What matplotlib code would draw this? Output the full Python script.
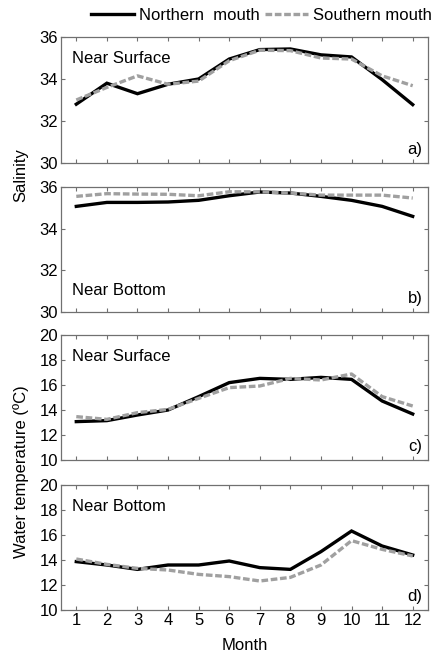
import matplotlib
matplotlib.use("Agg")
import matplotlib.pyplot as plt

plt.rcParams["font.family"] = ["Liberation Sans", "DejaVu Sans"]
plt.rcParams["font.size"] = 12

months = list(range(1, 13))

sal_surf_north = [32.8, 33.8, 33.3, 33.75, 34.0, 34.95, 35.4, 35.43, 35.15, 35.05, 33.97, 32.78]
sal_surf_south = [33.0, 33.6, 34.15, 33.75, 33.9, 34.87, 35.37, 35.35, 35.0, 34.95, 34.15, 33.68]
sal_bot_north = [35.07, 35.26, 35.26, 35.28, 35.36, 35.58, 35.76, 35.71, 35.55, 35.36, 35.07, 34.59]
sal_bot_south = [35.55, 35.68, 35.66, 35.65, 35.58, 35.77, 35.77, 35.71, 35.61, 35.61, 35.61, 35.47]
tmp_surf_north = [13.07, 13.15, 13.6, 14.0, 15.07, 16.19, 16.53, 16.45, 16.61, 16.45, 14.72, 13.68]
tmp_surf_south = [13.47, 13.25, 13.79, 14.05, 14.93, 15.79, 15.92, 16.53, 16.4, 16.88, 15.07, 14.32]
tmp_bot_north = [13.87, 13.6, 13.25, 13.6, 13.6, 13.92, 13.39, 13.25, 14.67, 16.32, 15.12, 14.4]
tmp_bot_south = [14.08, 13.65, 13.33, 13.2, 12.85, 12.67, 12.32, 12.61, 13.6, 15.55, 14.85, 14.32]

# north, south, y range, label, label height (axes fraction), panel tag
panels = [
    (sal_surf_north, sal_surf_south, (30, 36), "Near Surface", 0.83, "a)"),
    (sal_bot_north, sal_bot_south, (30, 36), "Near Bottom", 0.17, "b)"),
    (tmp_surf_north, tmp_surf_south, (10, 20), "Near Surface", 0.83, "c)"),
    (tmp_bot_north, tmp_bot_south, (10, 20), "Near Bottom", 0.83, "d)"),
]

W, H = 434, 653
fig = plt.figure(figsize=(W / 100, H / 100), dpi=100)

# axes pixel extents (top, bottom)
extents = [(37, 163), (187, 312), (335, 460), (485, 610)]
left, right = 61, 428
SPINE = "#707070"
GRAY = "#a0a0a0"

axes = []
for (north, south, ylim, name, ny, tag), (top, bot) in zip(panels, extents):
    ax = fig.add_axes([left / W, 1 - bot / H, (right - left) / W, (bot - top) / H])
    ln_n, = ax.plot(months, north, color="black", lw=2.4, solid_joinstyle="miter")
    ln_s, = ax.plot(months, south, color=GRAY, lw=2.4, dashes=(2.0, 0.8))
    ax.set_xlim(0.5, 12.5)
    ax.set_ylim(*ylim)
    ax.set_yticks(range(ylim[0], ylim[1] + 1, 2))
    ax.set_xticks(months)
    ax.tick_params(direction="in", length=3, width=0.8, color=SPINE,
                   top=True, right=True, pad=2)
    for s in ax.spines.values():
        s.set_color(SPINE)
        s.set_linewidth(0.9)
    ax.text(0.03, ny, name, transform=ax.transAxes, ha="left", va="center")
    ax.text(0.985, 0.05, tag, transform=ax.transAxes, ha="right", va="bottom")
    axes.append(ax)

for ax in axes[:-1]:
    ax.set_xticklabels([])
axes[-1].set_xlabel("Month", labelpad=7)

fig.text(21 / W, 1 - 175 / H, "Salinity", rotation=90, ha="center", va="center")
fig.text(21 / W, 1 - 472 / H, "Water temperature (ºC)", rotation=90, ha="center", va="center")

fig.legend([ln_n, ln_s], ["Northern  mouth", "Southern mouth"], loc="center",
           bbox_to_anchor=(0.603, 1 - 15 / H), ncol=2, frameon=False,
           handlelength=2.6, handletextpad=0.3, columnspacing=0.3, borderaxespad=0)

fig.savefig("out.png", dpi=100)
